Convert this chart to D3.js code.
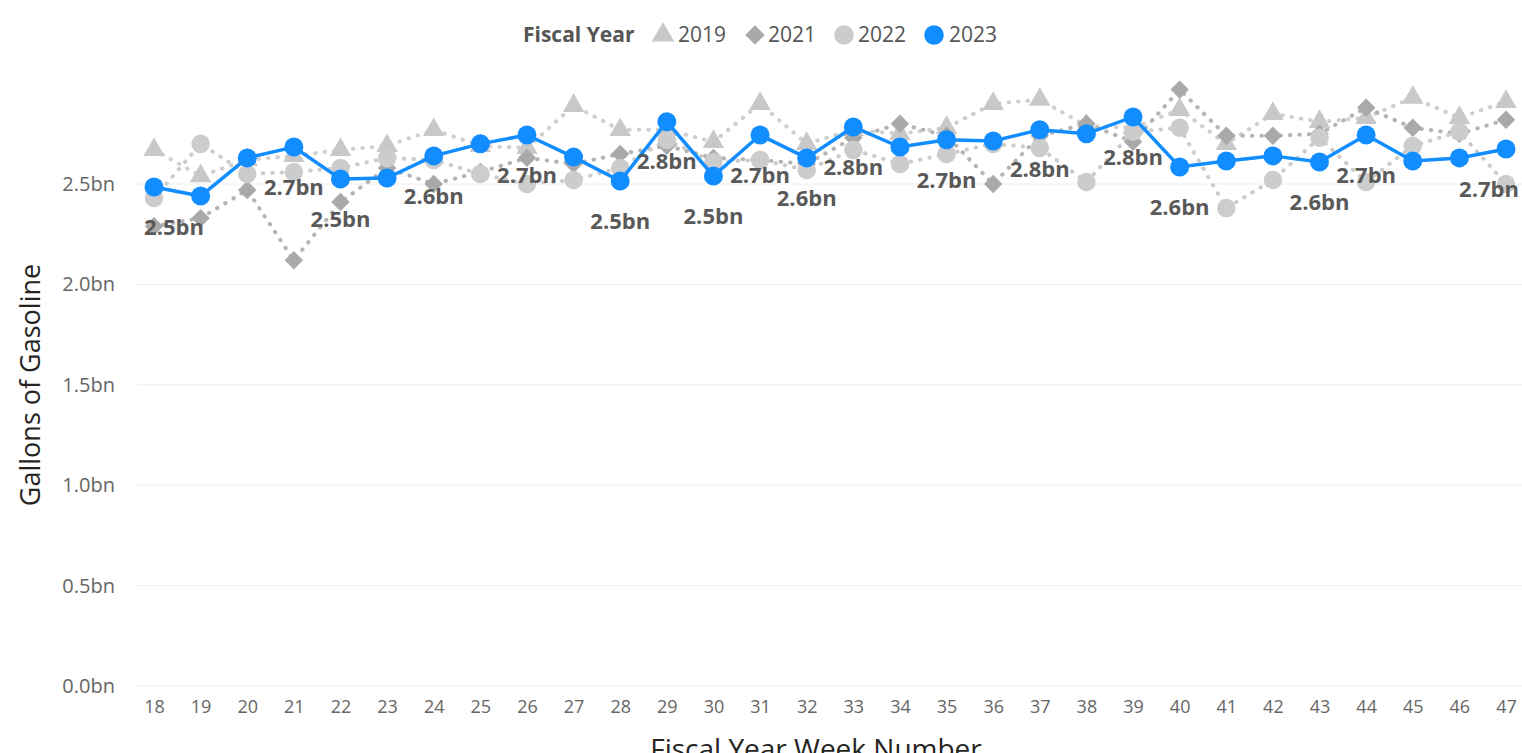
<!DOCTYPE html>
<html>
<head>
<meta charset="utf-8">
<script src="https://cdn.jsdelivr.net/npm/d3@7"></script>
<style>
  body { margin: 0; background: #fff; }
  svg { display: block; font-family: "Open Sans", "Noto Sans", sans-serif; }
</style>
</head>
<body>
<div id="chart"></div>
<script>
var weeks = d3.range(18, 48);

var fy2019 = [2.67, 2.54, 2.62, 2.64, 2.67, 2.69, 2.77, 2.69, 2.68, 2.89,
              2.77, 2.77, 2.71, 2.90, 2.70, 2.77, 2.75, 2.78, 2.90, 2.92,
              2.79, 2.78, 2.87, 2.70, 2.85, 2.81, 2.83, 2.93, 2.83, 2.91];
var fy2021 = [2.29, 2.33, 2.47, 2.12, 2.41, 2.58, 2.50, 2.56, 2.63, 2.60,
              2.65, 2.69, 2.63, 2.62, 2.60, 2.73, 2.80, 2.74, 2.50, 2.74,
              2.80, 2.71, 2.97, 2.74, 2.74, 2.75, 2.88, 2.78, 2.75, 2.82];
var fy2022 = [2.43, 2.70, 2.55, 2.56, 2.58, 2.63, 2.62, 2.55, 2.50, 2.52,
              2.58, 2.72, 2.61, 2.62, 2.57, 2.67, 2.60, 2.65, 2.70, 2.68,
              2.51, 2.76, 2.78, 2.38, 2.52, 2.73, 2.51, 2.69, 2.76, 2.50];
var fy2023 = [2.485, 2.44, 2.63, 2.684, 2.525, 2.53, 2.64, 2.70, 2.744, 2.634,
              2.515, 2.81, 2.54, 2.744, 2.63, 2.784, 2.684, 2.72, 2.714, 2.77,
              2.75, 2.834, 2.585, 2.615, 2.64, 2.61, 2.744, 2.615, 2.63, 2.674];

// weeks of 2023 that carry a data label
var labelWeeks = [18, 21, 22, 24, 26, 28, 29, 30, 31, 32, 33, 35, 37, 39, 40, 43, 44, 47];
var yTicks = [0, 0.5, 1.0, 1.5, 2.0, 2.5];

var width = 1522, height = 753;

var svg = d3.select('#chart').append('svg')
    .attr('width', width)
    .attr('height', height);

var x = d3.scalePoint().domain(weeks).range([154, 1506]);
var y = d3.scaleLinear().domain([0, 2.5]).range([686, 184]);

// gridlines
svg.append('g').selectAll('line')
    .data(yTicks)
  .enter().append('line')
    .attr('x1', 137).attr('x2', 1522)
    .attr('y1', function(d) { return y(d); })
    .attr('y2', function(d) { return y(d); })
    .attr('stroke', '#eeeeee')
    .attr('stroke-width', 1);

// y axis
var yAxis = svg.append('g')
    .attr('transform', 'translate(115,0)')
    .call(d3.axisLeft(y).tickValues(yTicks).tickSize(0).tickPadding(0)
        .tickFormat(function(d) { return d3.format('.1f')(d) + 'bn'; }));
yAxis.select('.domain').remove();
yAxis.selectAll('text')
    .attr('fill', '#666')
    .style('font-size', '20px')
    .style('font-family', '"Open Sans", sans-serif');

// x axis
var xAxis = svg.append('g')
    .attr('transform', 'translate(0,700)')
    .call(d3.axisBottom(x).tickSize(0).tickPadding(0));
xAxis.select('.domain').remove();
xAxis.selectAll('text')
    .attr('fill', '#666')
    .attr('dy', '0.71em')
    .style('font-size', '18px')
    .style('font-family', '"Open Sans", sans-serif');

// axis titles
svg.append('text')
    .attr('x', 816).attr('y', 759)
    .attr('text-anchor', 'middle')
    .attr('fill', '#252423')
    .style('font-size', '28px')
    .text('Fiscal Year Week Number');

svg.append('text')
    .attr('transform', 'translate(40,385) rotate(-90)')
    .attr('text-anchor', 'middle')
    .attr('fill', '#252423')
    .style('font-size', '27px')
    .text('Gallons of Gasoline');

var diamond = { draw: function(ctx, size) {
    var r = Math.sqrt(size / 2);
    ctx.moveTo(0, -r); ctx.lineTo(r, 0); ctx.lineTo(0, r); ctx.lineTo(-r, 0); ctx.closePath();
} };

var series = [
    { name: '2019', values: fy2019, color: '#c8c8c8', line: '#cfcfcf', shape: d3.symbolTriangle, size: 200 },
    { name: '2021', values: fy2021, color: '#a9a9a9', line: '#b4b4b4', shape: diamond, size: 170 },
    { name: '2022', values: fy2022, color: '#cccccc', line: '#cccccc', shape: d3.symbolCircle, size: 270 }
];

var line = d3.line()
    .x(function(d, i) { return x(weeks[i]); })
    .y(function(d) { return y(d); });

series.forEach(function(s) {
    svg.append('path')
        .datum(s.values)
        .attr('d', line)
        .attr('fill', 'none')
        .attr('stroke', s.line)
        .attr('stroke-width', 4)
        .attr('stroke-linecap', 'round')
        .attr('stroke-dasharray', '0.5 9');
});

series.forEach(function(s) {
    svg.append('g').selectAll('path')
        .data(s.values)
      .enter().append('path')
        .attr('d', d3.symbol().type(s.shape).size(s.size))
        .attr('transform', function(d, i) { return 'translate(' + x(weeks[i]) + ',' + y(d) + ')'; })
        .attr('fill', s.color);
});

// 2023
svg.append('path')
    .datum(fy2023)
    .attr('d', line)
    .attr('fill', 'none')
    .attr('stroke', '#118dff')
    .attr('stroke-width', 3.5);

svg.append('g').selectAll('circle')
    .data(fy2023)
  .enter().append('circle')
    .attr('cx', function(d, i) { return x(weeks[i]); })
    .attr('cy', function(d) { return y(d); })
    .attr('r', 9.5)
    .attr('fill', '#118dff');

// data labels
svg.append('g').selectAll('text')
    .data(labelWeeks)
  .enter().append('text')
    .attr('x', function(w) {
        var px = x(w);
        return Math.max(174, Math.min(1489, px));
    })
    .attr('y', function(w) { return y(fy2023[weeks.indexOf(w)]) + 40; })
    .attr('dy', '0.35em')
    .attr('text-anchor', 'middle')
    .attr('fill', '#595959')
    .style('font-size', '22px')
    .style('font-weight', 'bold')
    .text(function(w) { return d3.format('.1f')(fy2023[weeks.indexOf(w)]) + 'bn'; });

// legend
var legend = svg.append('g').attr('transform', 'translate(0,35)');
legend.append('text')
    .attr('x', 523).attr('dy', '0.35em')
    .attr('fill', '#555')
    .style('font-size', '21px')
    .style('font-weight', 'bold')
    .text('Fiscal Year');

var legendItems = [
    { name: '2019', cx: 663, tx: 678, shape: d3.symbolTriangle, size: 220, color: '#c8c8c8' },
    { name: '2021', cx: 755, tx: 768, shape: diamond, size: 190, color: '#a9a9a9' },
    { name: '2022', cx: 844, tx: 858, shape: d3.symbolCircle, size: 300, color: '#cccccc' },
    { name: '2023', cx: 934, tx: 949, shape: d3.symbolCircle, size: 300, color: '#118dff' }
];

legendItems.forEach(function(it) {
    legend.append('path')
        .attr('d', d3.symbol().type(it.shape).size(it.size))
        .attr('transform', 'translate(' + it.cx + ',0)')
        .attr('fill', it.color);
    legend.append('text')
        .attr('x', it.tx).attr('dy', '0.35em')
        .attr('fill', '#555')
        .style('font-size', '21px')
        .text(it.name);
});
</script>
</body>
</html>
